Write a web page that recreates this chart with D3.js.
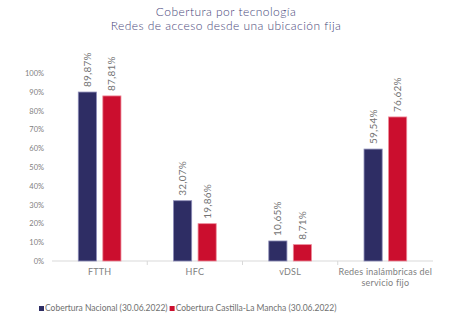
<!DOCTYPE html>
<html>
<head>
<meta charset="utf-8">
<script src="https://cdn.jsdelivr.net/npm/d3@7"></script>
<style>
	body { margin: 0; background: #fff; }
	svg { display: block; font-family: Lato, "Noto Sans", sans-serif; }
</style>
</head>
<body>
<script>
const categories = ["FTTH", "HFC", "vDSL", "Redes inalámbricas del|servicio fijo"];
const nacional = [89.87, 32.07, 10.65, 59.54];
const castilla = [87.81, 19.86, 8.71, 76.62];
const seriesNames = ["Cobertura Nacional (30.06.2022)", "Cobertura Castilla-La Mancha (30.06.2022)"];
const yTicks = [0, 10, 20, 30, 40, 50, 60, 70, 80, 90, 100];

const COLORS = ["#2e2d64", "#cb0e2e"];
const STROKES = ["#8d8cb8", "#ee8a9a"];
const TEXT = "#808080";

const W = 461, H = 322;
const margin = { left: 52, right: 28, top: 73, bottom: 61 };

const svg = d3.select("body").append("svg")
	.attr("width", W)
	.attr("height", H);

// title (two lines)
["Cobertura por tecnología", "Redes de acceso desde una ubicación fija"].forEach((line, k) => {
	svg.append("text")
		.attr("x", 226).attr("y", 15.5 + k * 14.5)
		.attr("text-anchor", "middle")
		.attr("font-size", 12)
		.attr("font-weight", 300)
		.attr("letter-spacing", 0.45)
		.attr("fill", "#48467a")
		.text(line);
});

const x = d3.scaleBand()
	.domain(categories)
	.range([margin.left, W - margin.right]);

const y = d3.scaleLinear()
	.domain([0, 100])
	.range([H - margin.bottom, margin.top]);

const inner = d3.scaleBand()
	.domain([0, 1])
	.range([0, x.bandwidth()])
	.paddingInner(0.22)
	.paddingOuter(1.05);

// y axis labels
const yAxis = svg.append("g")
	.attr("transform", `translate(${margin.left - 8},0)`)
	.call(d3.axisLeft(y).tickValues(yTicks).tickSize(0).tickFormat(d => d + "%"));
yAxis.select(".domain").remove();
yAxis.selectAll("text")
	.attr("x", 0)
	.attr("font-size", 7.5)
	.attr("font-family", "Lato, 'Noto Sans', sans-serif")
	.attr("fill", TEXT);

// x axis baseline + separators
const xAxis = svg.append("g")
	.attr("transform", `translate(0,${y(0)})`);
xAxis.append("line")
	.attr("x1", margin.left).attr("x2", W - margin.right)
	.attr("stroke", "#d9d9d9");
xAxis.selectAll(".sep")
	.data(categories.slice(1))
	.join("line")
	.attr("x1", d => x(d)).attr("x2", d => x(d))
	.attr("y1", 0).attr("y2", 4)
	.attr("stroke", "#d9d9d9");

const series = [nacional, castilla];

categories.forEach((cat, i) => {
	const g = svg.append("g").attr("transform", `translate(${x(cat)},0)`);
	series.forEach((vals, s) => {
		const v = vals[i];
		g.append("rect")
			.attr("x", inner(s) + 0.5)
			.attr("y", y(v))
			.attr("width", inner.bandwidth() - 1)
			.attr("height", y(0) - y(v))
			.attr("fill", COLORS[s])
			.attr("stroke", STROKES[s])
			.attr("stroke-width", 0.8);
		const cx = inner(s) + inner.bandwidth() / 2;
		g.append("text")
			.attr("transform", `translate(${cx + 3.5},${y(v) - 5}) rotate(-90)`)
			.attr("font-size", 10)
			.attr("letter-spacing", 0.2)
			.attr("fill", "#737373")
			.text(v.toFixed(2).replace(".", ",") + "%");
	});
	// category label
	const lines = cat.split("|");
	const t = g.append("text")
		.attr("x", x.bandwidth() / 2)
		.attr("y", y(0) + 14)
		.attr("text-anchor", "middle")
		.attr("font-size", 9)
		.attr("letter-spacing", 0.2)
		.attr("fill", TEXT);
	lines.forEach((ln, k) => {
		t.append("tspan")
			.attr("x", x.bandwidth() / 2)
			.attr("dy", k === 0 ? 0 : 11)
			.text(ln);
	});
});

// legend
const legend = svg.append("g").attr("transform", "translate(39,311)");
let lx = 0;
seriesNames.forEach((name, s) => {
	legend.append("rect")
		.attr("x", lx).attr("y", -5)
		.attr("width", 5).attr("height", 5)
		.attr("fill", COLORS[s]);
	const txt = legend.append("text")
		.attr("x", lx + 6)
		.attr("y", 0)
		.attr("font-size", 8.5)
		.attr("fill", "#707070")
		.text(name);
	lx += txt.node().getComputedTextLength() + 8;
});
</script>
</body>
</html>
